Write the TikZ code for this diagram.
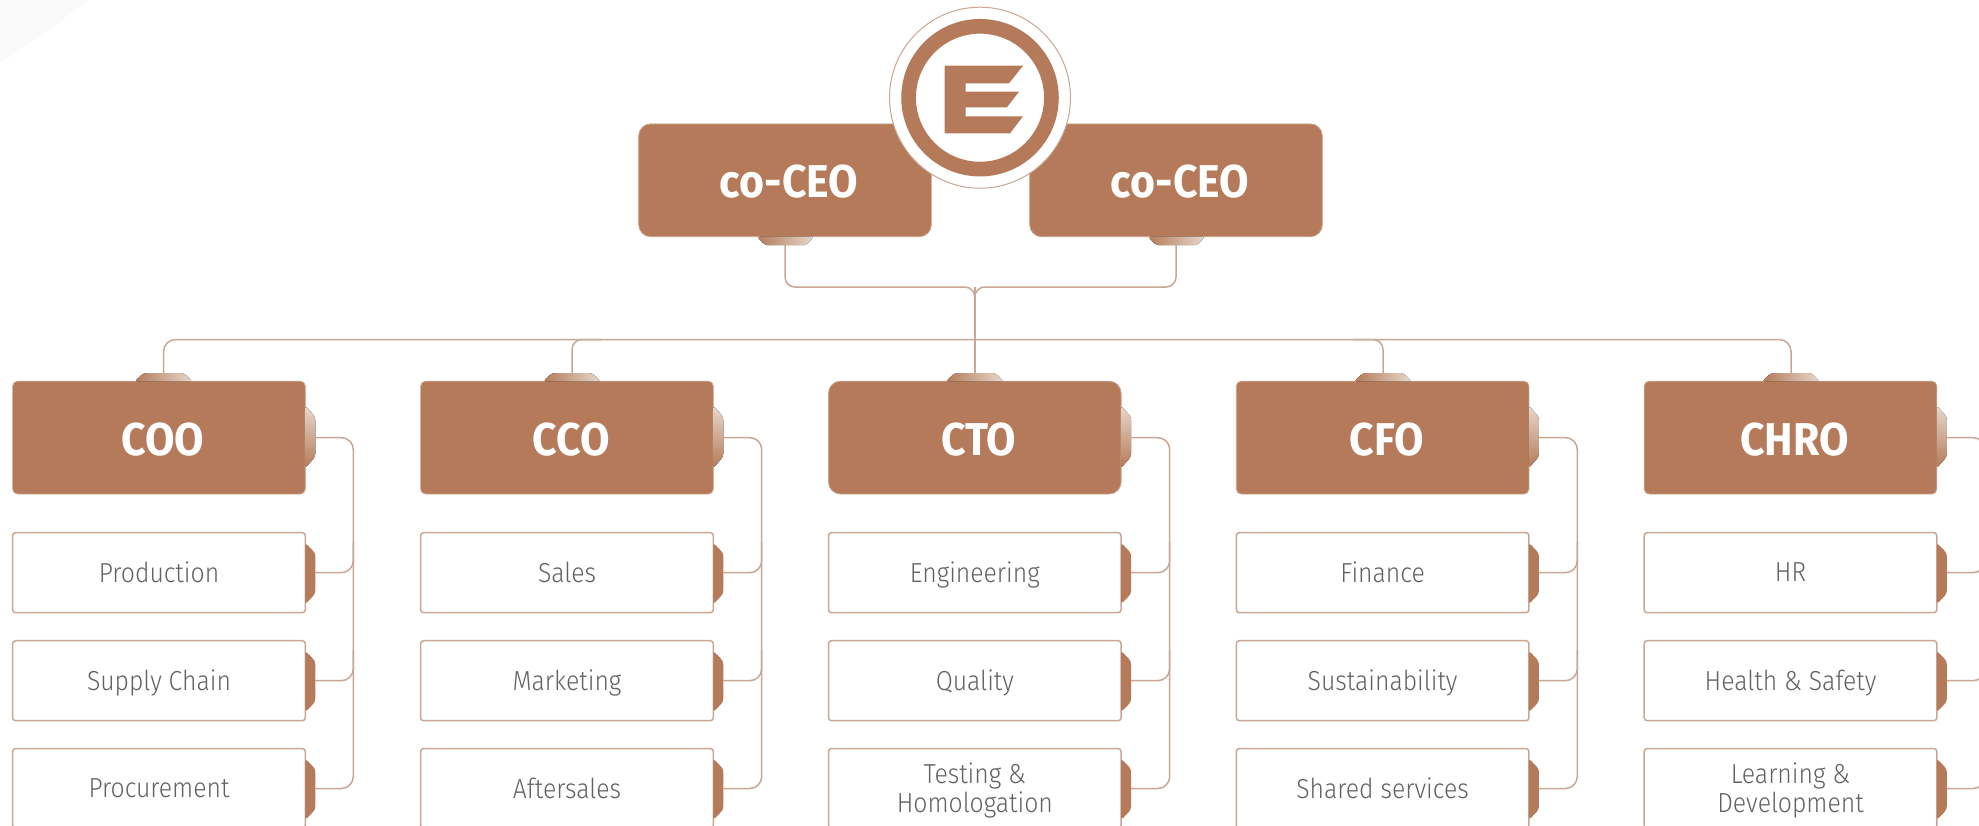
\documentclass[tikz,border=0pt]{standalone}
\usepackage{fontspec}
\usetikzlibrary{calc}
\setmainfont{Fira Sans}
\newfontfamily\headf{Fira Sans Bold}[FakeStretch=0.93]
\newfontfamily\lightf{Fira Sans Light}[FakeStretch=0.9]
\definecolor{brownc}{HTML}{B47A59}
\definecolor{linec}{HTML}{C8A794}
\definecolor{lightc}{HTML}{E7D8CC}
\definecolor{greyt}{HTML}{616265}
\newcommand\dropsub[1]{\raisebox{-5.34pt}[0pt][0pt]{\begin{tabular}{@{}c@{}}#1\end{tabular}}}
\newcommand\drophead[1]{\hspace*{4pt}\raisebox{-8.7pt}[0pt][0pt]{#1}}
\tikzset{
  headbox/.style={fill=brownc,draw=brownc!70!white,line width=0.4pt,minimum width=146.3pt,minimum height=56.4pt,inner sep=0pt,outer sep=0pt,text=white,font=\headf\fontsize{23}{26}\selectfont},
  subbox/.style={fill=white,draw=linec,line width=0.75pt,rounded corners=1.5pt,minimum width=146.3pt,minimum height=40pt,inner sep=0pt,outer sep=0pt,text=greyt,font=\lightf\fontsize{13.75}{14}\selectfont},
  conn/.style={draw=linec,line width=0.75pt},
  vtab/.style={top color=lightc,bottom color=brownc,rounded corners=1.5pt},
  htab/.style={left color=brownc,right color=lightc,rounded corners=1.5pt},
  stab/.style={fill=brownc,rounded corners=1.5pt},
}
\begin{document}
\begin{tikzpicture}[x=0.5pt,y=-0.5pt]
\useasboundingbox (0,0) rectangle (1979,825);
\clip (0,0) rectangle (1979,825);
\fill[white] (0,0) rectangle (1979,825);
\fill[black!2] (0,0) -- (88,0) .. controls (60,22) and (30,42) .. (0,63) -- cycle;
% co-CEO boxes
\node[headbox,rounded corners=6pt] (ceoL) at (785,180.3) {\drophead{co-CEO}};
\node[headbox,rounded corners=6pt] (ceoR) at (1176,180.3) {\drophead{co-CEO}};
\fill[htab,shift={(ceoL.south)}] (-28,0) -- (-20,8.5) -- (21,8.5) -- (29,0) -- cycle;
\fill[htab,shift={(ceoR.south)}] (-28,0) -- (-20,8.5) -- (21,8.5) -- (29,0) -- cycle;
\coordinate (tL) at (785,245);
\coordinate (tR) at (1176,245);
\coordinate (join) at (974.8,287);
\coordinate (bus) at (974.8,339.5);
% columns
\foreach \col/\cx/\tx/\vx/\hd/\rcor/\sa/\sb/\sc in {
  COO/159/163.6/353.3/COO/2.5pt/{Production}/{Supply Chain}/{Procurement},
  CCO/567/572/761.7/CCO/2.5pt/{Sales}/{Marketing}/{Aftersales},
  CTO/974.8/974.8/1169.7/CTO/6pt/{Engineering}/{Quality}/{Testing \&\\Homologation},
  CFO/1382.6/1383/1577.3/CFO/2.5pt/{Finance}/{Sustainability}/{Shared services},
  CHRO/1790.5/1791/1985/CHRO/2.5pt/{HR}/{Health \& Safety}/{Learning \&\\Development}}
{
  \node[headbox,rounded corners=\rcor] (h\col) at (\cx,437.6) {\drophead{\hd}};
  \node[subbox] (a\col) at (\cx,572.7) {\dropsub{\sa}};
  \node[subbox] (b\col) at (\cx,680.7) {\dropsub{\sb}};
  \node[subbox] (c\col) at (\cx,788.5) {\dropsub{\sc}};
  \fill[htab] (\tx-29,381.4) -- (\tx-20,373) -- (\tx+20,373) -- (\tx+29,381.4) -- cycle;
  \fill[vtab,shift={(h\col.east)}] (0,-32) -- (10,-20.5) -- (10,19) -- (0,30.5) -- cycle;
  \foreach \w in {a,b,c}{
    \fill[stab,shift={(\w\col.east)}] (0,-30) -- (10,-19.5) -- (10,21) -- (0,31.5) -- cycle;
  }
  \coordinate (t\col) at (\tx,373);
  \coordinate (v\col) at (\vx,437.6);
  \draw[conn,rounded corners=6pt] ($(h\col.east)+(10,0)$) -- (v\col) -- (v\col |- c\col.east) -- ($(c\col.east)+(10,0)$);
  \draw[conn,rounded corners=6pt] ($(a\col.east)+(10,0)$) -- (v\col |- a\col.east) -- ++(0,-30);
  \draw[conn,rounded corners=6pt] ($(b\col.east)+(10,0)$) -- (v\col |- b\col.east) -- ++(0,-30);
}
% trunk connectors
\draw[conn,rounded corners=5pt] (tL) -- (tL |- join) -- (join) -- (bus);
\draw[conn,rounded corners=5pt] (tR) -- (tR |- join) -- (join) -- (bus);
\draw[conn] (join) -- (tCTO);
\draw[conn,rounded corners=6pt] (tCOO) -- (tCOO |- bus) -- (tCHRO |- bus) -- (tCHRO);
\draw[conn,rounded corners=5pt] (tCCO) -- (tCCO |- bus) -- ++(30,0);
\draw[conn,rounded corners=5pt] (tCFO) -- (tCFO |- bus) -- ++(-30,0);
% logo
\node[circle,fill=white,draw=linec,line width=0.5pt,minimum size=90.5pt,inner sep=0pt,outer sep=0pt] (logo) at (980,97.7) {};
\draw[brownc,line width=7.35pt] (logo.center) circle[radius=71.4];
\fill[brownc] (944.7,65.7) -- (1023,65.7) -- (1009,83.3) -- (965.7,83.3) -- (965.7,91.7) -- (1019,91.7) -- (1007,107.3) -- (965.7,107.3) -- (965.7,116.3) -- (1023,116.3) -- (1010,133.3) -- (944.7,133.3) -- cycle;
\end{tikzpicture}
\end{document}
